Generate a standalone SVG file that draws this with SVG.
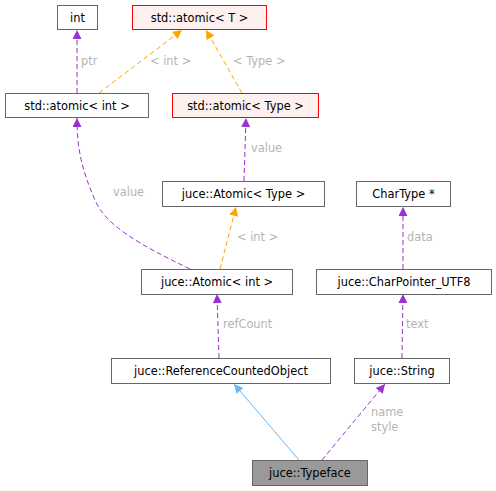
<svg xmlns="http://www.w3.org/2000/svg" width="496" height="491" viewBox="0 0 496 491">
<style>
.n rect{fill:#fff;stroke:#666;stroke-width:1}
.n.red rect{fill:#fff0f0;stroke:#f00}
.n.cur rect{fill:#999;stroke:#666}
.n text{font-family:"DejaVu Sans",sans-serif;font-size:11.4px;fill:#000;text-anchor:middle}
.e{fill:none;stroke-width:1}
.p{stroke:#9a32cd;stroke-dasharray:5,3;marker-end:url(#mp)}
.o{stroke:#ffa500;stroke-dasharray:5,3;marker-end:url(#mo)}
.b{stroke:#63b8ff;marker-end:url(#mb)}
.l{font-family:"DejaVu Sans",sans-serif;font-size:11.4px;fill:#b4b4b4}
</style>
<defs>
<marker id="mp" viewBox="0 0 10 10" refX="10" refY="5" markerUnits="userSpaceOnUse" markerWidth="11" markerHeight="9" orient="auto"><path d="M0,0L10,5L0,10z" fill="#9a32cd"/></marker>
<marker id="mo" viewBox="0 0 10 10" refX="10" refY="5" markerUnits="userSpaceOnUse" markerWidth="11" markerHeight="9" orient="auto"><path d="M0,0L10,5L0,10z" fill="#ffa500"/></marker>
<marker id="mb" viewBox="0 0 10 10" refX="10" refY="5" markerUnits="userSpaceOnUse" markerWidth="11" markerHeight="9" orient="auto"><path d="M0,0L10,5L0,10z" fill="#63b8ff"/></marker>
</defs>
<rect width="496" height="491" fill="#fff"/>
<g id="edges">
<path class="e p" d="M77,93 L77,30"/>
<text class="l" x="81" y="65">ptr</text>
<path class="e o" d="M99,93 L182,30"/>
<text class="l" x="150" y="65">&lt; int &gt;</text>
<path class="e o" d="M242,93 L206,30"/>
<text class="l" x="233" y="65">&lt; Type &gt;</text>
<path class="e p" d="M244,181 L246,118"/>
<text class="l" x="251" y="152">value</text>
<path class="e p" d="M190,269 C140,245 105,225 95,200 C82,170 77,150 77,118"/>
<text class="l" x="113" y="196">value</text>
<path class="e o" d="M220,269 L236,207"/>
<text class="l" x="237" y="241">&lt; int &gt;</text>
<path class="e p" d="M403,269 L403,207"/>
<text class="l" x="407" y="241">data</text>
<path class="e p" d="M219,358 L217,294"/>
<text class="l" x="223" y="328">refCount</text>
<path class="e p" d="M402,358 L403,294"/>
<text class="l" x="406" y="328">text</text>
<path class="e b" d="M299,460 L234,384"/>
<path class="e p" d="M322,460 L385,384"/>
<text class="l" x="371" y="416">name</text>
<text class="l" x="371" y="431">style</text>
</g>
<g id="n_int" class="n"><rect x="57.5" y="5.5" width="40" height="24"/><text x="77.5" y="21.5">int</text></g>
<g id="n_atomicT" class="n red"><rect x="132.5" y="5.5" width="134" height="24"/><text x="199.5" y="21.5">std::atomic&lt; T &gt;</text></g>
<g id="n_atomicInt" class="n"><rect x="5.5" y="93.5" width="143" height="24"/><text x="77" y="109.5">std::atomic&lt; int &gt;</text></g>
<g id="n_atomicType" class="n red"><rect x="172.5" y="93.5" width="146" height="24"/><text x="245.5" y="109.5">std::atomic&lt; Type &gt;</text></g>
<g id="n_jAtomicType" class="n"><rect x="162.5" y="181.5" width="162" height="25"/><text x="243.5" y="198">juce::Atomic&lt; Type &gt;</text></g>
<g id="n_charType" class="n"><rect x="356.5" y="181.5" width="94" height="25"/><text x="403.5" y="198">CharType *</text></g>
<g id="n_jAtomicInt" class="n"><rect x="141.5" y="269.5" width="151" height="25"/><text x="217" y="286">juce::Atomic&lt; int &gt;</text></g>
<g id="n_charPtr" class="n"><rect x="316.5" y="269.5" width="175" height="25"/><text x="404" y="286">juce::CharPointer_UTF8</text></g>
<g id="n_refCounted" class="n"><rect x="111.5" y="358.5" width="219" height="25"/><text x="221" y="375">juce::ReferenceCountedObject</text></g>
<g id="n_string" class="n"><rect x="354.5" y="358.5" width="95" height="25"/><text x="402" y="375">juce::String</text></g>
<g id="n_typeface" class="n cur"><rect x="252.5" y="460.5" width="115" height="25"/><text x="310" y="477">juce::Typeface</text></g>
</svg>
